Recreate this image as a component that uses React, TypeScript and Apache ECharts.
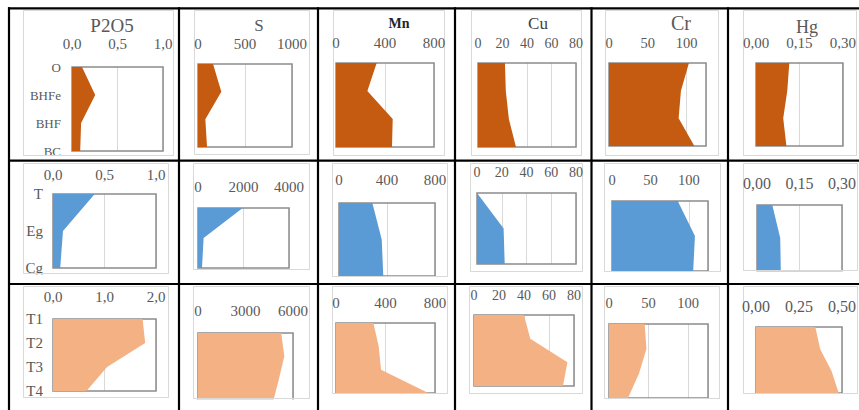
import React, { useEffect, useRef } from "react";
import * as echarts from "echarts";

// ---------- data ----------
const elements = ["P2O5", "S", "Mn", "Cu", "Cr", "Hg"];

const catsRow1 = ["O", "BHFe", "BHF", "BC"];
const catsRow2 = ["T", "Eg", "Cg"];
const catsRow3 = ["T1", "T2", "T3", "T4"];

// Row 1 (O / BHFe / BHF / BC)
const p2o5Row1 = [0.11, 0.255, 0.1, 0.09];
const sRow1 = [160, 248, 78, 96];
const mnRow1 = [332, 256, 463, 457];
const cuRow1 = [22, 22.7, 25.2, 31];
const crRow1 = [103, 92.7, 89.7, 110];
const hgRow1 = [0.115, 0.108, 0.094, 0.105];

// Row 2 (T / Eg / Cg)
const p2o5Row2 = [0.405, 0.097, 0.07];
const sRow2 = [1964, 247, 175];
const mnRow2 = [278, 356, 369];
const cuRow2 = [0, 21.5, 22.4];
const crRow2 = [85.6, 108, 105.7];
const hgRow2 = [0.054, 0.082, 0.084];

// Row 3 (T1 / T2 / T3 / T4)
const p2o5Row3 = [1.74, 1.79, 1.05, 0.65];
const sRow3 = [5260, 5450, 5100, 4720];
const mnRow3 = [302, 345, 364, 746];
const cuRow3 = [40, 45, 74.7, 71.2];
const crRow3 = [45, 47.3, 38, 24];
const hgRow3 = [0.345, 0.373, 0.439, 0.481];

// axis scales (max / step) per row, per element
const maxRow1 = [1, 1000, 800, 80, 125, 0.3];
const stepRow1 = [0.5, 500, 400, 20, 50, 0.15];
const maxRow2 = [1, 4000, 800, 80, 125, 0.3];
const stepRow2 = [0.5, 2000, 400, 20, 50, 0.15];
const maxRow3 = [2, 6000, 800, 80, 125, 0.5];
const stepRow3 = [1, 3000, 400, 20, 50, 0.25];
const decimals = [1, 0, 0, 0, 0, 2];

// ---------- layout ----------
const plotRects = [
  [[72, 67, 163, 151], [198, 64, 292, 147], [336, 63, 434, 147], [478, 63, 576, 147], [609, 63, 706, 146], [756, 63, 843, 146]],
  [[53, 194, 156, 268], [198, 208, 289, 268], [339, 203, 435, 276], [477, 193, 576, 264], [612, 201, 708, 271], [757, 205, 844, 271]],
  [[53, 319, 156, 391], [198, 333, 293, 403], [336, 323, 435, 393], [474, 315, 574, 386], [609, 324, 708, 398], [756, 327, 844, 393]],
];
const labelCenterY = [
  [43.5, 43.5, 43, 43, 43, 43],
  [175, 187, 180, 172, 180, 183],
  [297, 311, 303, 295, 303, 306],
];
const tickFont = [
  [15, 15, 15, 14, 14.5, 15],
  [15, 15, 15, 14, 14.5, 16],
  [15, 15, 15, 14, 14.5, 16],
];
const catFont = [13, 15, 15];
const catMargin = [11, 10, 10];
const chartAreas = [
  [[23, 10, 173, 155], [194, 10, 309, 154], [333, 10, 444, 155], [471, 10, 581, 155], [605, 10, 718, 155], [743, 10, 856, 155]],
  [[23, 163, 168, 273], [193, 163, 309, 269], [332, 163, 447, 276], [470, 163, 582, 271], [604, 163, 720, 271], [743, 163, 857, 270]],
  [[23, 286, 168, 397], [193, 286, 309, 398], [332, 286, 447, 393], [469, 286, 582, 393], [604, 286, 719, 398], [743, 286, 857, 393]],
];
const rowBottoms = [160, 284, 410];
const titles = [
  { x: 112, y: 25, size: 19, weight: "normal", color: "#595959" },
  { x: 259, y: 25, size: 17, weight: "normal", color: "#595959" },
  { x: 399, y: 23, size: 14, weight: "bold", color: "#262626" },
  { x: 538, y: 23, size: 17, weight: "normal", color: "#404040" },
  { x: 681, y: 23, size: 20, weight: "normal", color: "#595959" },
  { x: 807, y: 27, size: 18, weight: "normal", color: "#595959" },
];
const tableX = [9, 179, 318, 455, 591.5, 728];
const tableY = [8.3, 160.7, 284];
const rowColors = ["#C55A11", "#5B9BD5", "#F4B183"];
const FONT = "Liberation Serif";

const rowsData = [
  [p2o5Row1, sRow1, mnRow1, cuRow1, crRow1, hgRow1],
  [p2o5Row2, sRow2, mnRow2, cuRow2, crRow2, hgRow2],
  [p2o5Row3, sRow3, mnRow3, cuRow3, crRow3, hgRow3],
];
const rowsCats = [catsRow1, catsRow2, catsRow3];
const rowsMax = [maxRow1, maxRow2, maxRow3];
const rowsStep = [stepRow1, stepRow2, stepRow3];

function buildOption() {
  const grid: any[] = [];
  const xAxis: any[] = [];
  const yAxis: any[] = [];
  const series: any[] = [];
  const graphic: any[] = [];

  chartAreas.forEach((row) =>
    row.forEach(([x0, y0, x1, y1]) => {
      graphic.push({
        type: "rect",
        z: -10,
        shape: { x: x0 + 0.5, y: y0 + 0.5, width: x1 - x0, height: y1 - y0 },
        style: { fill: "#fff", stroke: "#D9D9D9", lineWidth: 1 },
      });
    })
  );

  for (let r = 0; r < 3; r++) {
    for (let c = 0; c < 6; c++) {
      const idx = r * 6 + c;
      const [x0, y0, x1, y1] = plotRects[r][c];
      const fs = tickFont[r][c];
      const step = rowsStep[r][c];
      const dec = decimals[c];
      const margin = y0 - labelCenterY[r][c] - fs / 2;
      grid.push({
        left: x0,
        top: y0,
        width: x1 - x0,
        height: y1 - y0,
        show: true,
        borderColor: "#8C8C8C",
        borderWidth: 1.5,
        backgroundColor: "transparent",
        z: 1,
      });
      xAxis.push({
        type: "value",
        gridIndex: idx,
        position: "top",
        min: 0,
        max: rowsMax[r][c],
        interval: step,
        axisLine: { show: false },
        axisTick: { show: false },
        splitLine: { show: true, lineStyle: { color: "#D9D9D9", width: 1 } },
        axisLabel: {
          show: true,
          margin,
          fontSize: fs,
          fontFamily: FONT,
          color: "#595959",
          formatter: (v: number) => {
            const k = v / step;
            if (Math.abs(k - Math.round(k)) > 1e-6) return "";
            return v.toFixed(dec).replace(".", ",");
          },
        },
      });
      yAxis.push({
        type: "category",
        gridIndex: idx,
        data: rowsCats[r],
        inverse: true,
        boundaryGap: false,
        axisLine: { show: false },
        axisTick: { show: false },
        splitLine: { show: false },
        axisLabel: {
          show: c === 0,
          margin: catMargin[r],
          fontSize: catFont[r],
          fontFamily: FONT,
          color: "#595959",
        },
      });
      series.push({
        type: "line",
        xAxisIndex: idx,
        yAxisIndex: idx,
        data: rowsData[r][c],
        symbol: "none",
        silent: true,
        z: 2,
        lineStyle: { width: 0, color: rowColors[r] },
        areaStyle: { color: rowColors[r], opacity: 1 },
      });
    }
  }

  for (let r = 0; r < 3; r++) {
    for (let c = 0; c < 6; c++) {
      const [x0, , x1, y1] = chartAreas[r][c];
      graphic.push({
        type: "rect",
        z: 50,
        shape: { x: x0 - 3, y: y1 + 1.5, width: x1 - x0 + 6, height: rowBottoms[r] - y1 },
        style: { fill: "#fff" },
      });
      graphic.push({
        type: "line",
        z: 51,
        shape: { x1: x0 + 0.5, y1: y1 + 0.5, x2: x1 + 0.5, y2: y1 + 0.5 },
        style: { stroke: "#D9D9D9", lineWidth: 1 },
      });
    }
  }

  titles.forEach((t, i) => {
    graphic.push({
      type: "text",
      z: 60,
      x: t.x,
      y: t.y,
      style: {
        text: elements[i],
        align: "center",
        verticalAlign: "middle",
        fontSize: t.size,
        fontWeight: t.weight,
        fontFamily: FONT,
        fill: t.color,
      },
    });
  });

  tableX.forEach((x) =>
    graphic.push({
      type: "line",
      z: 100,
      shape: { x1: x, y1: 7.2, x2: x, y2: 410 },
      style: { stroke: "#000", lineWidth: 2.2 },
    })
  );
  tableY.forEach((y) =>
    graphic.push({
      type: "line",
      z: 100,
      shape: { x1: 8, y1: y, x2: 859, y2: y },
      style: { stroke: "#000", lineWidth: 2.2 },
    })
  );

  return {
    animation: false,
    backgroundColor: "#fff",
    textStyle: { fontFamily: FONT },
    grid,
    xAxis,
    yAxis,
    series,
    graphic,
  };
}

export default function App() {
  const ref = useRef<HTMLDivElement>(null);
  useEffect(() => {
    if (!ref.current) return;
    const chart = echarts.init(ref.current, null, { renderer: "svg" });
    chart.setOption(buildOption() as any);
    return () => chart.dispose();
  }, []);
  return (
    <div
      ref={ref}
      style={{ position: "absolute", left: 0, top: 0, width: 859, height: 410 }}
    />
  );
}
